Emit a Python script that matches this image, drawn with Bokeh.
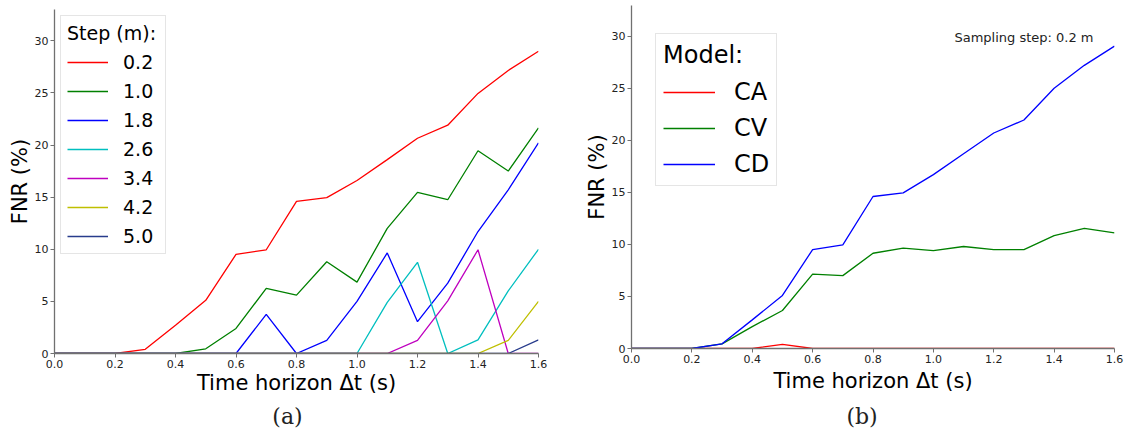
from bokeh.plotting import figure
from bokeh.layouts import row, column
from bokeh.models import (Range1d, FixedTicker, PrintfTickFormatter, Legend, LegendItem,
                          Label, Div)
from bokeh.embed import file_html
from bokeh.resources import INLINE

# ---------------- data ----------------
t = [0.0, 0.1, 0.2, 0.3, 0.4, 0.5, 0.6, 0.7, 0.8, 0.9, 1.0, 1.1, 1.2, 1.3, 1.4, 1.5, 1.6]

step_labels = ["0.2", "1.0", "1.8", "2.6", "3.4", "4.2", "5.0"]
step_02 = [0, 0, 0, 0.4, 2.7, 5.1, 9.5, 9.95, 14.6, 14.95, 16.6, 18.6, 20.65, 21.9, 24.95, 27.15, 29.0]
step_10 = [0, 0, 0, 0, 0, 0.45, 2.4, 6.25, 5.6, 8.8, 6.85, 12.0, 15.45, 14.75, 19.45, 17.5, 21.65]
step_18 = [0, 0, 0, 0, 0, 0, 0, 3.75, 0, 1.25, 5.0, 9.65, 3.05, 6.75, 11.7, 15.7, 20.2]
step_26 = [0, 0, 0, 0, 0, 0, 0, 0, 0, 0, 0, 4.9, 8.75, 0, 1.3, 6.0, 10.0]
step_34 = [0, 0, 0, 0, 0, 0, 0, 0, 0, 0, 0, 0, 1.25, 5.05, 9.95, 0, 0]
step_42 = [0, 0, 0, 0, 0, 0, 0, 0, 0, 0, 0, 0, 0, 0, 0, 1.25, 5.0]
step_50 = [0, 0, 0, 0, 0, 0, 0, 0, 0, 0, 0, 0, 0, 0, 0, 0, 1.3]
step_colors = ["#ff0000", "#008000", "#0000ff", "#00bfbf", "#bf00bf", "#bfbf00", "#283c8c"]

model_labels = ["CA", "CV", "CD"]
model_ca = [0, 0, 0, 0, 0, 0.4, 0, 0, 0, 0, 0, 0, 0, 0, 0, 0, 0]
model_cv = [0, 0, 0, 0.45, 2.1, 3.65, 7.15, 7.0, 9.15, 9.65, 9.4, 9.8, 9.5, 9.5, 10.85, 11.55, 11.1]
model_cd = [0, 0, 0, 0.45, 2.75, 5.1, 9.5, 9.95, 14.6, 14.95, 16.7, 18.7, 20.7, 21.95, 25.0, 27.2, 29.05]
model_colors = ["#ff0000", "#008000", "#0000ff"]

x_ticks = [0.0, 0.2, 0.4, 0.6, 0.8, 1.0, 1.2, 1.4, 1.6]
y_ticks = [0, 5, 10, 15, 20, 25, 30]

FONT = "DejaVu Sans"


def make_fig(width, height, ymax, bl, br, bt, bb, xstand, ystand):
    p = figure(width=width, height=height, output_backend="svg", toolbar_location=None,
               x_range=Range1d(0, 1.6), y_range=Range1d(0, ymax),
               min_border_left=bl, min_border_right=br, min_border_top=bt, min_border_bottom=bb)
    p.outline_line_color = None
    p.grid.visible = False
    p.background_fill_color = "white"
    for ax in (p.xaxis[0], p.yaxis[0]):
        ax.axis_line_color = "#707070"
        ax.axis_line_width = 1.3
        ax.major_tick_line_color = "#707070"
        ax.major_tick_out = 4
        ax.major_tick_in = 0
        ax.minor_tick_line_color = None
        ax.major_label_text_font = FONT
        ax.major_label_text_font_size = "11px"
        ax.major_label_text_color = "#222222"
        ax.major_label_standoff = 2
        ax.axis_label_text_font = FONT
        ax.axis_label_text_font_size = "21px"
        ax.axis_label_text_font_style = "normal"
        ax.axis_label_text_color = "#000000"
    p.xaxis.ticker = FixedTicker(ticks=x_ticks)
    p.xaxis.formatter = PrintfTickFormatter(format="%.1f")
    p.yaxis.ticker = FixedTicker(ticks=y_ticks)
    p.xaxis.axis_label = "Time horizon Δt (s)"
    p.yaxis.axis_label = "FNR (%)"
    p.xaxis.axis_label_standoff = xstand
    p.yaxis.axis_label_standoff = ystand
    return p


def legend_kw(fs, gw, gh, stand, spacing, pad, tstand, lw):
    return dict(title_text_font=FONT, title_text_font_size=fs, title_text_font_style="normal",
                title_text_color="#000000", title_standoff=tstand,
                label_text_font=FONT, label_text_font_size=fs, label_text_color="#000000",
                glyph_width=gw, glyph_height=gh, label_height=gh, label_width=lw,
                label_standoff=stand, spacing=spacing, padding=pad,
                border_line_color="#cccccc", border_line_width=1.2,
                background_fill_alpha=0.85)


def caption(text, width, shift):
    html = ('<div style="width:%dpx;text-align:center;font-family:\'DejaVu Serif\';'
            'font-size:22px;line-height:30px;color:#222;padding-left:%dpx;box-sizing:border-box;">'
            '%s</div>' % (width, shift, text))
    return Div(text=html, width=width, height=35, margin=0)


# ---------------- left ----------------
p1 = make_fig(575, 402, 33.0, 54, 37, 9, 49, 0, 0)
series = [step_02, step_10, step_18, step_26, step_34, step_42, step_50]
items1 = []
for lab, ys, c in zip(step_labels, series, step_colors):
    r = p1.line(x=t, y=ys, line_color=c, line_width=1.3)
    items1.append(LegendItem(label=lab, renderers=[r]))
leg1 = Legend(items=items1, location="top_left", margin=6, title="Step (m):",
              **legend_kw("19px", 41, 22, 15, 7, 6, 7, 36))
p1.add_layout(leg1)

# ---------------- right ----------------
p2 = make_fig(554, 402, 32.95, 56, 15, 5, 54, 3, 0)
series2 = [model_ca, model_cv, model_cd]
items2 = []
for lab, ys, c in zip(model_labels, series2, model_colors):
    r = p2.line(x=t, y=ys, line_color=c, line_width=1.3)
    items2.append(LegendItem(label=lab, renderers=[r]))
leg2 = Legend(items=items2, location=(24, 162), title="Model:",
              **legend_kw("24px", 52, 28, 19, 8, 7, 9, 20))
p2.add_layout(leg2)
p2.add_layout(Label(x=462, y=311, x_units="screen", y_units="screen", text="Sampling step: 0.2 m",
                    text_align="right", text_baseline="alphabetic", text_font=FONT,
                    text_font_size="13px", text_color="#222222"))

left = column(p1, caption("(a)", 575, 0), spacing=0)
right = column(p2, caption("(b)", 554, 20), spacing=0)
layout = row(left, right, spacing=0)
open("out.html", "w").write(file_html(layout, INLINE))
